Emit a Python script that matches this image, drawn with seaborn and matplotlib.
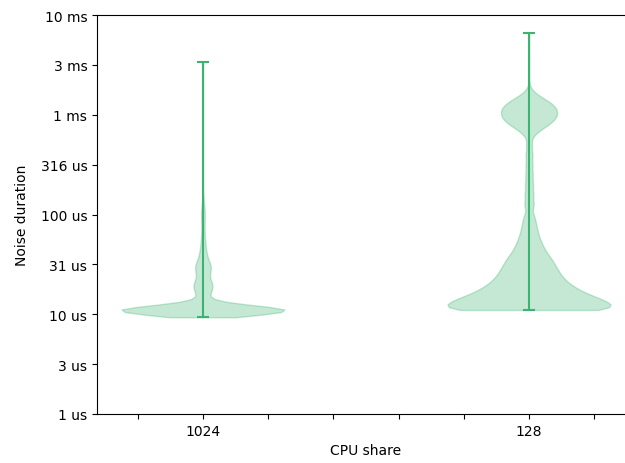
import numpy as np
import matplotlib
matplotlib.use('Agg')
import matplotlib.pyplot as plt
from matplotlib.ticker import NullLocator
import seaborn as sns

# noise durations (us) and how often each was seen, per CPU share
share_order = ['1024', '128']

dur_1024_us = [9.33, 10.0, 10.47, 10.96, 11.48, 12.02, 12.88, 14.1, 15.85, 17.8,
               19.95, 22.4, 25.1, 28.2, 31.6, 35.5, 39.8, 44.7, 50.1, 56.2,
               63.1, 70.8, 79.4, 89.1, 100.0, 112.0, 126.0, 141.0, 158.0, 200.0,
               282.0, 398.0, 631.0, 1000.0, 1585.0, 3388.0]
cnt_1024 = [50, 170, 250, 300, 250, 140, 60, 25, 40, 55,
            60, 40, 35, 50, 45, 30, 22, 18, 14, 12,
            10, 9, 9, 10, 11, 10, 7, 4, 3, 2,
            2, 1, 1, 1, 1, 1]

dur_128_us = [11.04, 12.59, 14.13, 15.85, 17.78, 19.95, 22.39, 25.12, 28.18, 31.62,
              35.48, 39.81, 44.67, 50.12, 56.23, 63.1, 70.79, 79.43, 89.13, 100.0,
              125.9, 158.5, 199.5, 251.2, 316.2, 398.1, 501.2,
              631.0, 707.9, 794.3, 891.3, 1000.0, 1122.0, 1259.0, 1413.0, 1585.0, 1778.0,
              2239.0, 3162.0, 4467.0, 6546.0]
cnt_128 = [500, 400, 330, 265, 220, 185, 160, 140, 130, 115,
           105, 85, 70, 60, 50, 42, 37, 32, 28, 25,
           42, 38, 35, 32, 30, 30, 25,
           25, 50, 90, 120, 130, 130, 115, 80, 35, 10,
           3, 3, 2, 1]

bw_adjust = {'1024': 0.67, '128': 0.32}

color = 'mediumseagreen'

fig = plt.figure(figsize=(6.25, 4.64), dpi=100)
ax = fig.add_axes([97 / 625, 49 / 464, 538 / 625, 399 / 464])

samples = {'1024': np.repeat(dur_1024_us, cnt_1024),
           '128': np.repeat(dur_128_us, cnt_128)}

for share in share_order:
    vals = samples[share]
    sns.violinplot(x=[share] * len(vals), y=vals, order=share_order, ax=ax,
                   color=color, saturation=1, linecolor=color, linewidth=1,
                   alpha=0.3, inner=None, cut=0, width=0.5,
                   density_norm='width', bw_adjust=bw_adjust[share],
                   log_scale=True)

# extrema with caps, like matplotlib's violinplot
pos = np.arange(len(share_order))
mins = [samples[s].min() for s in share_order]
maxs = [samples[s].max() for s in share_order]
ax.vlines(pos, mins, maxs, color=color, linewidth=1.5)
ax.hlines(mins, pos - 0.018, pos + 0.018, color=color, linewidth=1.5)
ax.hlines(maxs, pos - 0.018, pos + 0.018, color=color, linewidth=1.5)

yt = [10 ** (k / 2) for k in range(9)]
ylabels = ['1 us', '3 us', '10 us', '31 us', '100 us', '316 us', '1 ms', '3 ms', '10 ms']
ax.set_yscale('log')
ax.set_yticks(yt)
ax.set_yticklabels(ylabels)
ax.yaxis.set_minor_locator(NullLocator())
ax.set_ylim(1, 10000)

xt = np.arange(-0.2, 1.21, 0.2)
ax.set_xticks(xt)
ax.set_xticklabels(['', '1024', '', '', '', '', '128', ''])
ax.set_xlim(-0.325, 1.325)

ax.set_xlabel('CPU share')
ax.set_ylabel('Noise duration', labelpad=8.5)

plt.savefig('out.png', dpi=100)
